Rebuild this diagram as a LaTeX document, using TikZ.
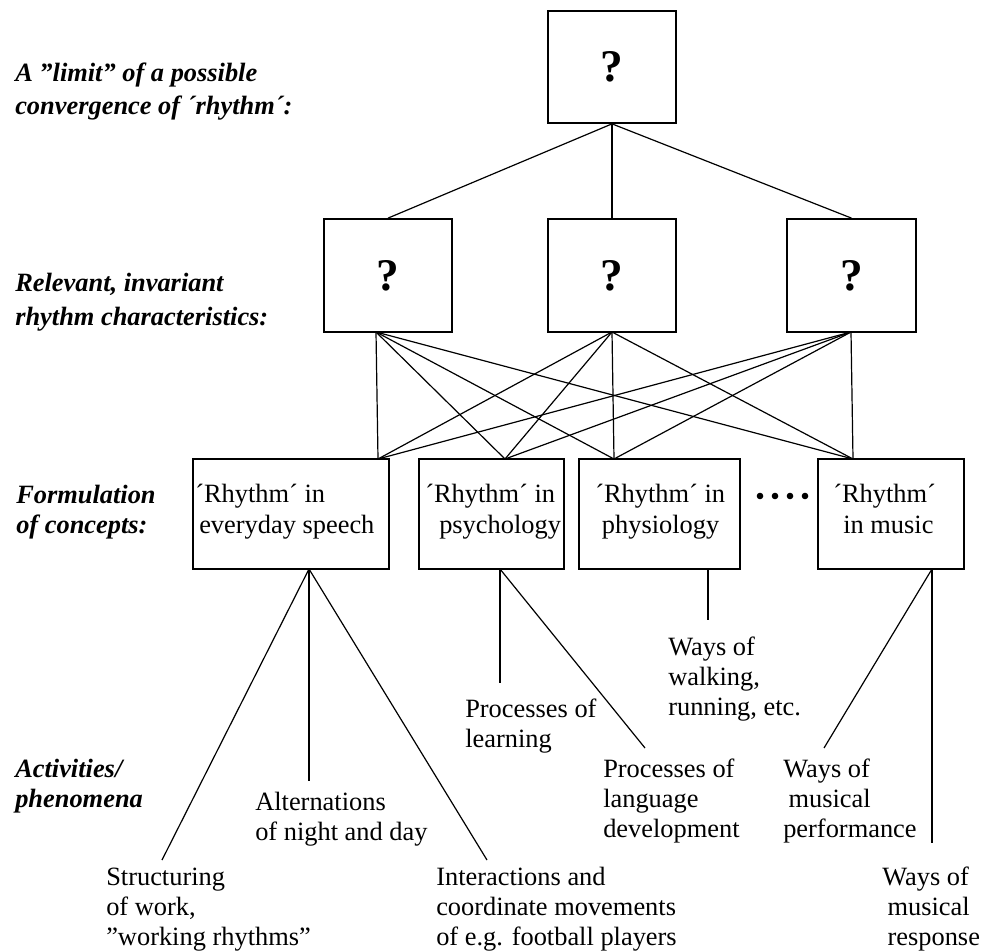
\documentclass[tikz,border=0pt]{standalone}
\usepackage{fontspec}
\setmainfont{Liberation Serif}
\begin{document}
\begin{tikzpicture}[x=0.75pt,y=-0.75pt,
 qbox/.style={draw,line width=1.3pt,inner sep=0pt,font=\fontsize{34}{34}\selectfont\bfseries},
 cbox/.style={draw,line width=1.3pt,inner sep=0pt},
 lbl/.style={anchor=base west,inner sep=0pt,align=left,font=\fontsize{19.8}{24.75}\selectfont\bfseries\itshape},
 lbltwo/.style={anchor=base west,inner sep=0pt,align=left,font=\fontsize{19.8}{22.5}\selectfont\bfseries\itshape},
 boxtxt/.style={anchor=base west,inner sep=0pt,align=left,font=\fontsize{19.8}{23.25}\selectfont},
 txt/.style={anchor=base west,inner sep=0pt,align=left,font=\fontsize{19.8}{22.5}\selectfont},
 conn/.style={line width=0.9pt}]
\useasboundingbox (0,0) rectangle (981,952);

% boxes
\node[qbox,minimum width=96pt,minimum height=84pt] (top) at (612,67) {?};
\node[qbox,minimum width=96pt,minimum height=84.75pt] (m1) at (388,275.5) {?};
\node[qbox,minimum width=96pt,minimum height=84.75pt] (m2) at (612,275.5) {?};
\node[qbox,minimum width=96.75pt,minimum height=84.75pt] (m3) at (851.5,275.5) {?};

\node[cbox,minimum width=147pt,minimum height=82.5pt] (b1) at (291,514) {};
\node[cbox,minimum width=108.75pt,minimum height=82.5pt] (b2) at (491.5,514) {};
\node[cbox,minimum width=120.75pt,minimum height=82.5pt] (b3) at (659.5,514) {};
\node[cbox,minimum width=109.5pt,minimum height=82.5pt] (b4) at (891,514) {};

% attach points
\coordinate (m1b) at (376,332);
\coordinate (m2b) at (612,332);
\coordinate (m3b) at (851,332);
\coordinate (b1t) at (378,459);
\coordinate (b2t) at (505,459);
\coordinate (b3t) at (614,459);
\coordinate (b4t) at (853,459);
\coordinate (b1b) at (309,569);
\coordinate (b2b) at (500,569);
\coordinate (b3b) at (708,569);
\coordinate (b4b) at (932,569);

% free ends
\coordinate (e1) at (162,860);
\coordinate (e2) at (309,781);
\coordinate (e3) at (487,860);
\coordinate (e4) at (500,683);
\coordinate (e5) at (645,748);
\coordinate (e6) at (708,620);
\coordinate (e7) at (824,748);
\coordinate (e8) at (932,843);

% connectors
\draw[conn] (top.south) -- (m1.north);
\draw[conn] (top.south) -- (m2.north);
\draw[conn] (top.south) -- (m3.north);
\foreach \m in {m1b,m2b,m3b}{
  \foreach \b in {b1t,b2t,b3t,b4t}{
    \draw[conn] (\m) -- (\b);
  }
}
\draw[conn] (b1b) -- (e1);
\draw[conn] (b1b) -- (e2);
\draw[conn] (b1b) -- (e3);
\draw[conn] (b2b) -- (e4);
\draw[conn] (b2b) -- (e5);
\draw[conn] (b3b) -- (e6);
\draw[conn] (b4b) -- (e7);
\draw[conn] (b4b) -- (e8);

% dots
\foreach \x in {760,775,790,805}{\fill (\x,496) circle (3.3);}

% left labels (anchor = baseline of last line)
\node[lbl] (l1) at (15,115) {A ”limit” of a possible\\convergence of ´rhythm´:};
\node[lbl] (l2) at (15,325) {Relevant, invariant\\rhythm characteristics:};
\node[lbltwo] (l3) at (16,533) {Formulation\\of concepts:};
\node[lbltwo] (l4) at (15,807) {Activities/\\phenomena};

% box texts
\node[boxtxt] (t1) at (195,533) {´Rhythm´ in\\\hspace{3pt}everyday speech};
\node[boxtxt] (t2) at (425,533) {´Rhythm´ in\\\hspace{10.5pt}psychology};
\node[boxtxt] (t3) at (595,533) {´Rhythm´ in\\\hspace{5pt}physiology};
\node[boxtxt] (t4) at (833,533) {´Rhythm´\\\hspace{7.5pt}in music};

% activity texts
\node[txt] (a1) at (465,747) {Processes of\\learning};
\node[txt] (a2) at (668,715) {Ways of\\walking,\\running, etc.};
\node[txt] (a3) at (603,837) {Processes of\\language\\development};
\node[txt] (a4) at (783,837) {Ways of\\\hspace{4pt}musical\\performance};
\node[txt] (a5) at (255,840) {Alternations\\of night and day};
\node[txt] (a6) at (106,945) {Structuring\\of work,\\”working rhythms”};
\node[txt] (a7) at (436,945) {Interactions and\\coordinate movements\\of e.g. football players};
\node[txt] (a8) at (882,945) {Ways of\\\hspace{4pt}musical\\\hspace{4pt}response};
\end{tikzpicture}
\end{document}
